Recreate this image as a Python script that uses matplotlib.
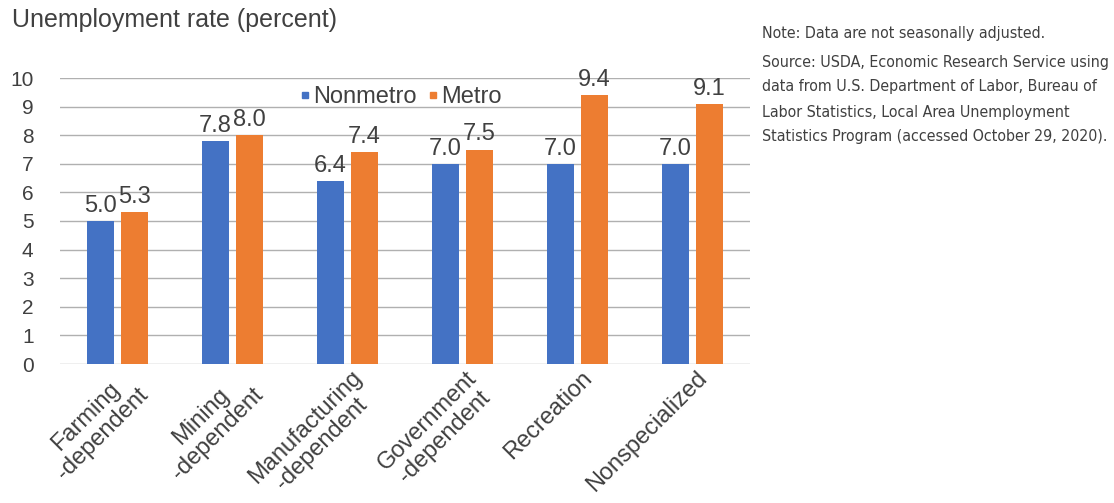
import matplotlib
matplotlib.use("Agg")
import matplotlib.pyplot as plt
import matplotlib.transforms as mtransforms
from matplotlib.lines import Line2D
import numpy as np

plt.rcParams['font.family'] = ['Liberation Sans', 'DejaVu Sans']

categories = ["Farming\n-dependent", "Mining\n-dependent", "Manufacturing\n-dependent",
              "Government\n-dependent", "Recreation", "Nonspecialized"]
nonmetro = [5.0, 7.8, 6.4, 7.0, 7.0, 7.0]
metro = [5.3, 8.0, 7.4, 7.5, 9.4, 9.1]
series_names = ["Nonmetro", "Metro"]
yticks = list(range(0, 11))

title = "Unemployment rate (percent)"
note_lines = ["Note: Data are not seasonally adjusted."]
source_lines = ["Source: USDA, Economic Research Service using",
                "data from U.S. Department of Labor, Bureau of",
                "Labor Statistics, Local Area Unemployment",
                "Statistics Program (accessed October 29, 2020)."]

BLUE = "#4472C4"
ORANGE = "#ED7D31"
TXT = "#404040"

W, H = 1114, 503
fig = plt.figure(figsize=(W / 100, H / 100), dpi=100)
ax = fig.add_axes([60 / W, 1 - 364 / H, 690 / W, 286 / H])

x = np.arange(len(categories))
bw = 0.235
off = 0.1475
b1 = ax.bar(x - off, nonmetro, bw, color=BLUE, zorder=3)
b2 = ax.bar(x + off, metro, bw, color=ORANGE, zorder=3)
for bars in (b1, b2):
    ax.bar_label(bars, fmt="%.1f", padding=3, fontsize=17, color=TXT)

ax.set_xlim(-0.5, len(categories) - 0.5)
ax.set_ylim(0, 10)
ax.set_yticks(yticks)
ax.set_yticklabels([str(v) for v in yticks])
ax.yaxis.grid(True, color="#b0b0b0", linewidth=1.0, zorder=0)
ax.set_axisbelow(True)
for s in ax.spines.values():
    s.set_visible(False)
ax.tick_params(axis='y', length=0, pad=19, labelsize=15, labelcolor=TXT)
ax.tick_params(axis='x', length=0, pad=2, labelsize=17, labelcolor=TXT)
ax.set_xticks(x)
ax.set_xticklabels(categories, rotation=45, ha='right', va='top',
                   rotation_mode='anchor', multialignment='center', linespacing=1.1)
shift = mtransforms.ScaledTranslation(3 / 100, 0, fig.dpi_scale_trans)
for lab in ax.get_xticklabels():
    lab.set_transform(lab.get_transform() + shift)

handles = [Line2D([], [], marker='s', linestyle='none', color=BLUE, markersize=5),
           Line2D([], [], marker='s', linestyle='none', color=ORANGE, markersize=5)]
fig.legend(handles, series_names, loc='center left',
           bbox_to_anchor=(287 / W, 1 - 97 / H), ncol=2, frameon=False,
           fontsize=17, handlelength=0.5, handletextpad=0.1, columnspacing=0.45,
           borderpad=0, labelcolor=TXT)

fig.text(12 / W, 1 - 20 / H, title, fontsize=18, color=TXT, va='center', ha='left')

# Note / source block: condensed font if available, size fitted to the reference width
note_kw = dict(family='DejaVu Sans', stretch='condensed', color=TXT, va='center', ha='left')
texts = [fig.text(762 / W, 1 - 33 / H, note_lines[0], fontsize=11, **note_kw)]
for i, line in enumerate(source_lines):
    texts.append(fig.text(762 / W, 1 - (62 + 25 * i) / H, line, fontsize=11, **note_kw))
renderer = fig.canvas.get_renderer()
wid = texts[1].get_window_extent(renderer).width
fs = 11 * 346.0 / wid
for t in texts:
    t.set_fontsize(fs)

fig.savefig("out.png", dpi=100, facecolor='white')
